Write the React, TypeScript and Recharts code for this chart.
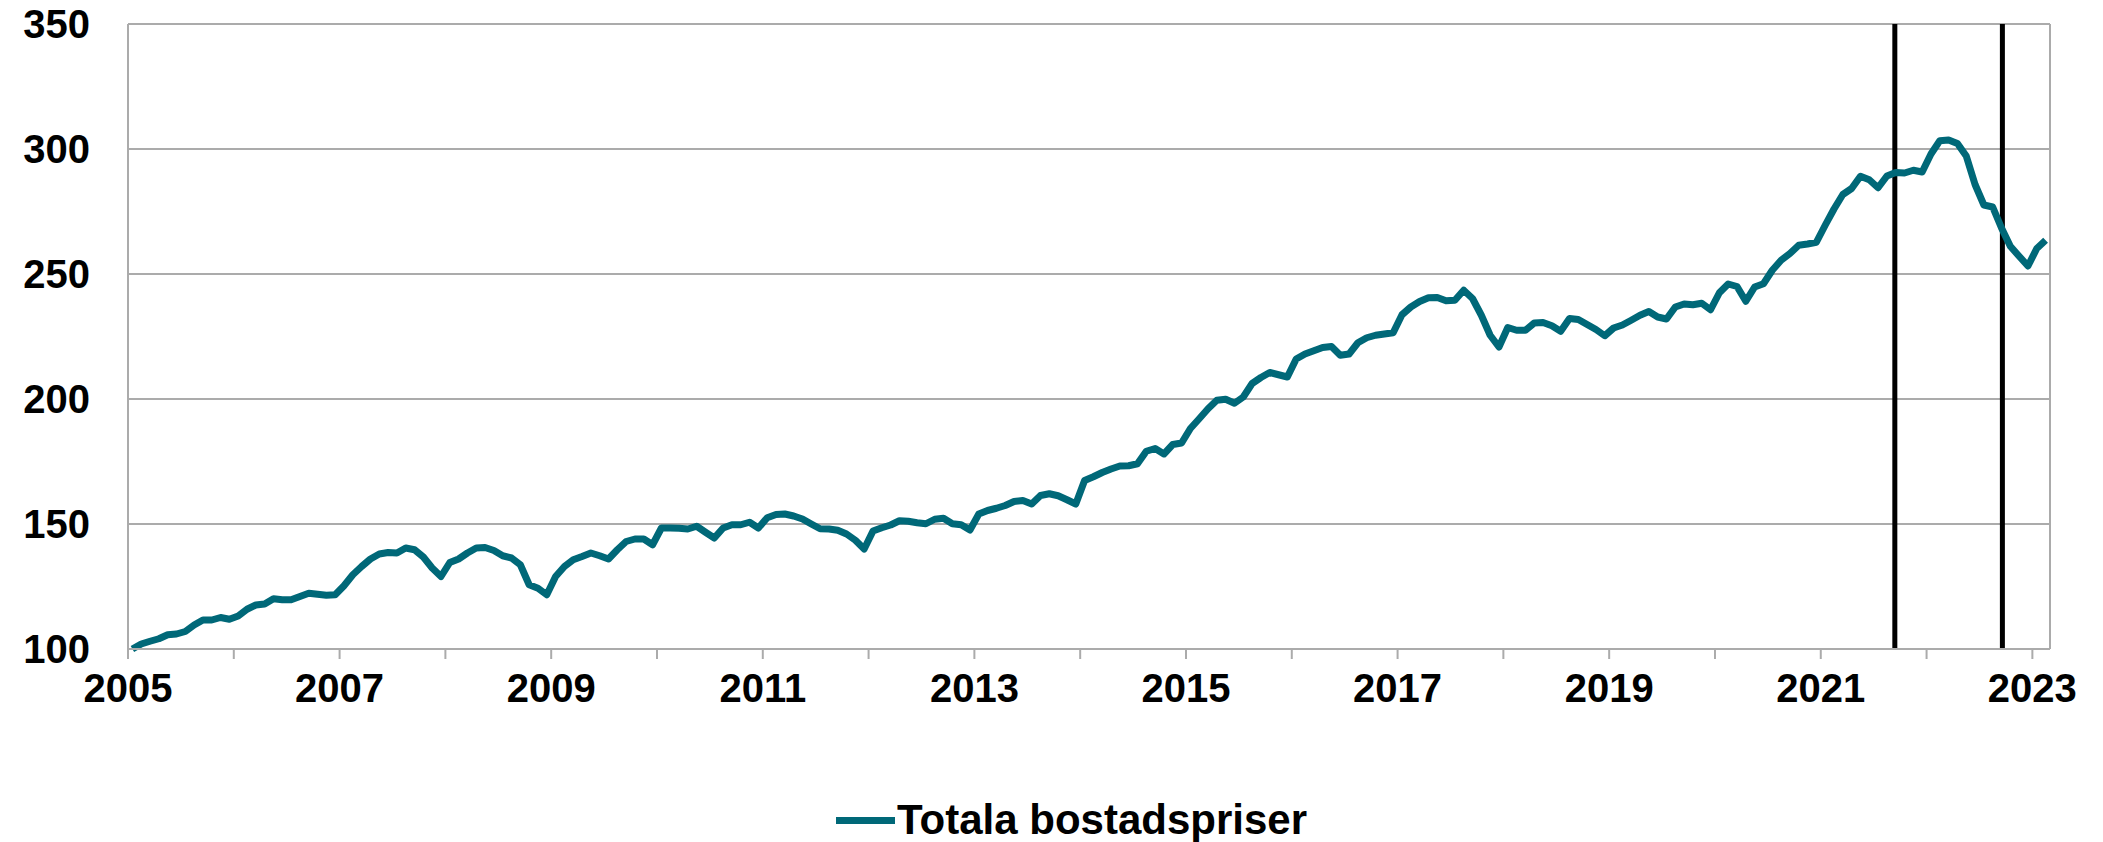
import React from "react";
import {
  CartesianGrid,
  Legend,
  Line,
  LineChart,
  ReferenceLine,
  XAxis,
  YAxis,
} from "recharts";

document.body.style.margin = "0";

// månadsindex, jan 2005 = 100 (jan 2005 – feb 2023)
const prices = [
  100, 102, 103.1, 104.1, 105.7, 106, 107, 109.6, 111.6, 111.6, 112.6, 111.9,
  113.2, 115.9, 117.6, 118, 120.1, 119.7, 119.7, 121, 122.3, 121.9, 121.5, 121.7,
  125.3, 129.7, 133, 136, 138, 138.6, 138.4, 140.4, 139.7, 136.8, 132.4, 129,
  134.6, 136, 138.4, 140.4, 140.6, 139.4, 137.3, 136.4, 133.7, 125.7, 124.3, 121.7,
  129, 133, 135.7, 137, 138.4, 137.3, 136, 139.7, 143, 144, 144, 141.7,
  148.4, 148.4, 148.3, 148, 149.1, 146.7, 144.4, 148.4, 149.7, 149.7, 150.7, 148.4,
  152.5, 153.8, 154, 153.2, 152, 150, 148.1, 148, 147.5, 146, 143.5, 140,
  147.2, 148.5, 149.6, 151.3, 151.1, 150.5, 150.1, 151.9, 152.3, 150.1, 149.7, 147.6,
  154, 155.4, 156.3, 157.4, 159, 159.4, 158, 161.4, 162.1, 161.3, 159.7, 158,
  167.4, 168.9, 170.6, 172, 173.2, 173.3, 174.1, 179.1, 180.2, 178, 181.8, 182.4,
  188.2, 192.1, 196.1, 199.5, 199.9, 198.3, 200.8, 206.2, 208.6, 210.6, 209.7, 208.8,
  216, 218, 219.3, 220.6, 221, 217.5, 218, 222.5, 224.5, 225.5, 226, 226.5,
  233.7, 236.8, 239, 240.5, 240.6, 239.3, 239.5, 243.5, 240.2, 233.5, 225.5, 220.8,
  228.6, 227.5, 227.5, 230.4, 230.6, 229.3, 227.1, 232.2, 231.8, 229.8, 227.8, 225.3,
  228.4, 229.6, 231.5, 233.5, 235, 232.8, 232, 236.8, 238, 237.7, 238.3, 235.7,
  242.5, 246, 245, 239.1, 244.8, 246.1, 251.5, 255.5, 258.2, 261.5, 262, 262.7,
  269.5, 276, 281.8, 284.2, 289.1, 287.7, 284.5, 289.2, 290.6, 290.4, 291.5, 290.8,
  298, 303.3, 303.6, 302.2, 297.2, 285.8, 277.6, 276.8, 268.4, 261.1, 257.1, 253.2,
  260.2, 263.5,
];

const firstYear = 2005;
const years = [
  2005, 2006, 2007, 2008, 2009, 2010, 2011, 2012, 2013, 2014, 2015, 2016, 2017,
  2018, 2019, 2020, 2021, 2022, 2023,
];
const yTicks = [100, 150, 200, 250, 300, 350];
// lodräta markeringar, i månader från jan 2005
const eventMonths = [200.4, 212.6];

const data = prices.map((v, i) => ({ m: i + 0.5, v }));
const xTicks = years.map((y) => (y - firstYear) * 12);

const TEAL = "#006878";
const GRID = "#ABABAB";
const FONT = "'Liberation Sans', Arial, sans-serif";

function LegendBox() {
  return (
    <div
      style={{
        display: "flex",
        alignItems: "center",
        fontFamily: FONT,
        fontWeight: 700,
        fontSize: 42,
        lineHeight: "42px",
        color: "#000",
        whiteSpace: "nowrap",
      }}
    >
      <span
        style={{ display: "inline-block", width: 59, height: 7, background: TEAL, marginRight: 2 }}
      />
      Totala bostadspriser
    </div>
  );
}

export default function App() {
  return (
    <LineChart
      width={2103}
      height={842}
      data={data}
      margin={{ top: 24, right: 53, left: 0, bottom: 133 }}
    >
      <CartesianGrid vertical={false} stroke={GRID} strokeWidth={2} />
      <XAxis
        type="number"
        dataKey="m"
        domain={[0, 218]}
        ticks={xTicks}
        interval={0}
        tickFormatter={(t) => {
          const y = firstYear + t / 12;
          return (y - firstYear) % 2 === 0 ? String(y) : "";
        }}
        height={60}
        stroke={GRID}
        strokeWidth={2}
        tickSize={10}
        tickMargin={15}
        tick={{ fill: "#000", fontSize: 40, fontWeight: 700, fontFamily: FONT }}
      />
      <YAxis
        domain={[100, 350]}
        ticks={yTicks}
        interval={0}
        width={128}
        stroke={GRID}
        strokeWidth={2}
        tickLine={false}
        tickSize={30}
        tickMargin={8}
        tick={{ fill: "#000", fontSize: 40, fontWeight: 700, fontFamily: FONT }}
      />
      <ReferenceLine x={218} stroke={GRID} strokeWidth={2} />
      {eventMonths.map((m) => (
        <ReferenceLine key={m} x={m} stroke="#000" strokeWidth={5} />
      ))}
      <Line
        type="linear"
        dataKey="v"
        stroke={TEAL}
        strokeWidth={7}
        strokeLinejoin="round"
        dot={false}
        isAnimationActive={false}
      />
      <Legend
        verticalAlign="middle"
        align="center"
        wrapperStyle={{ top: 799, left: 836, width: "auto" }}
        content={() => <LegendBox />}
      />
    </LineChart>
  );
}
